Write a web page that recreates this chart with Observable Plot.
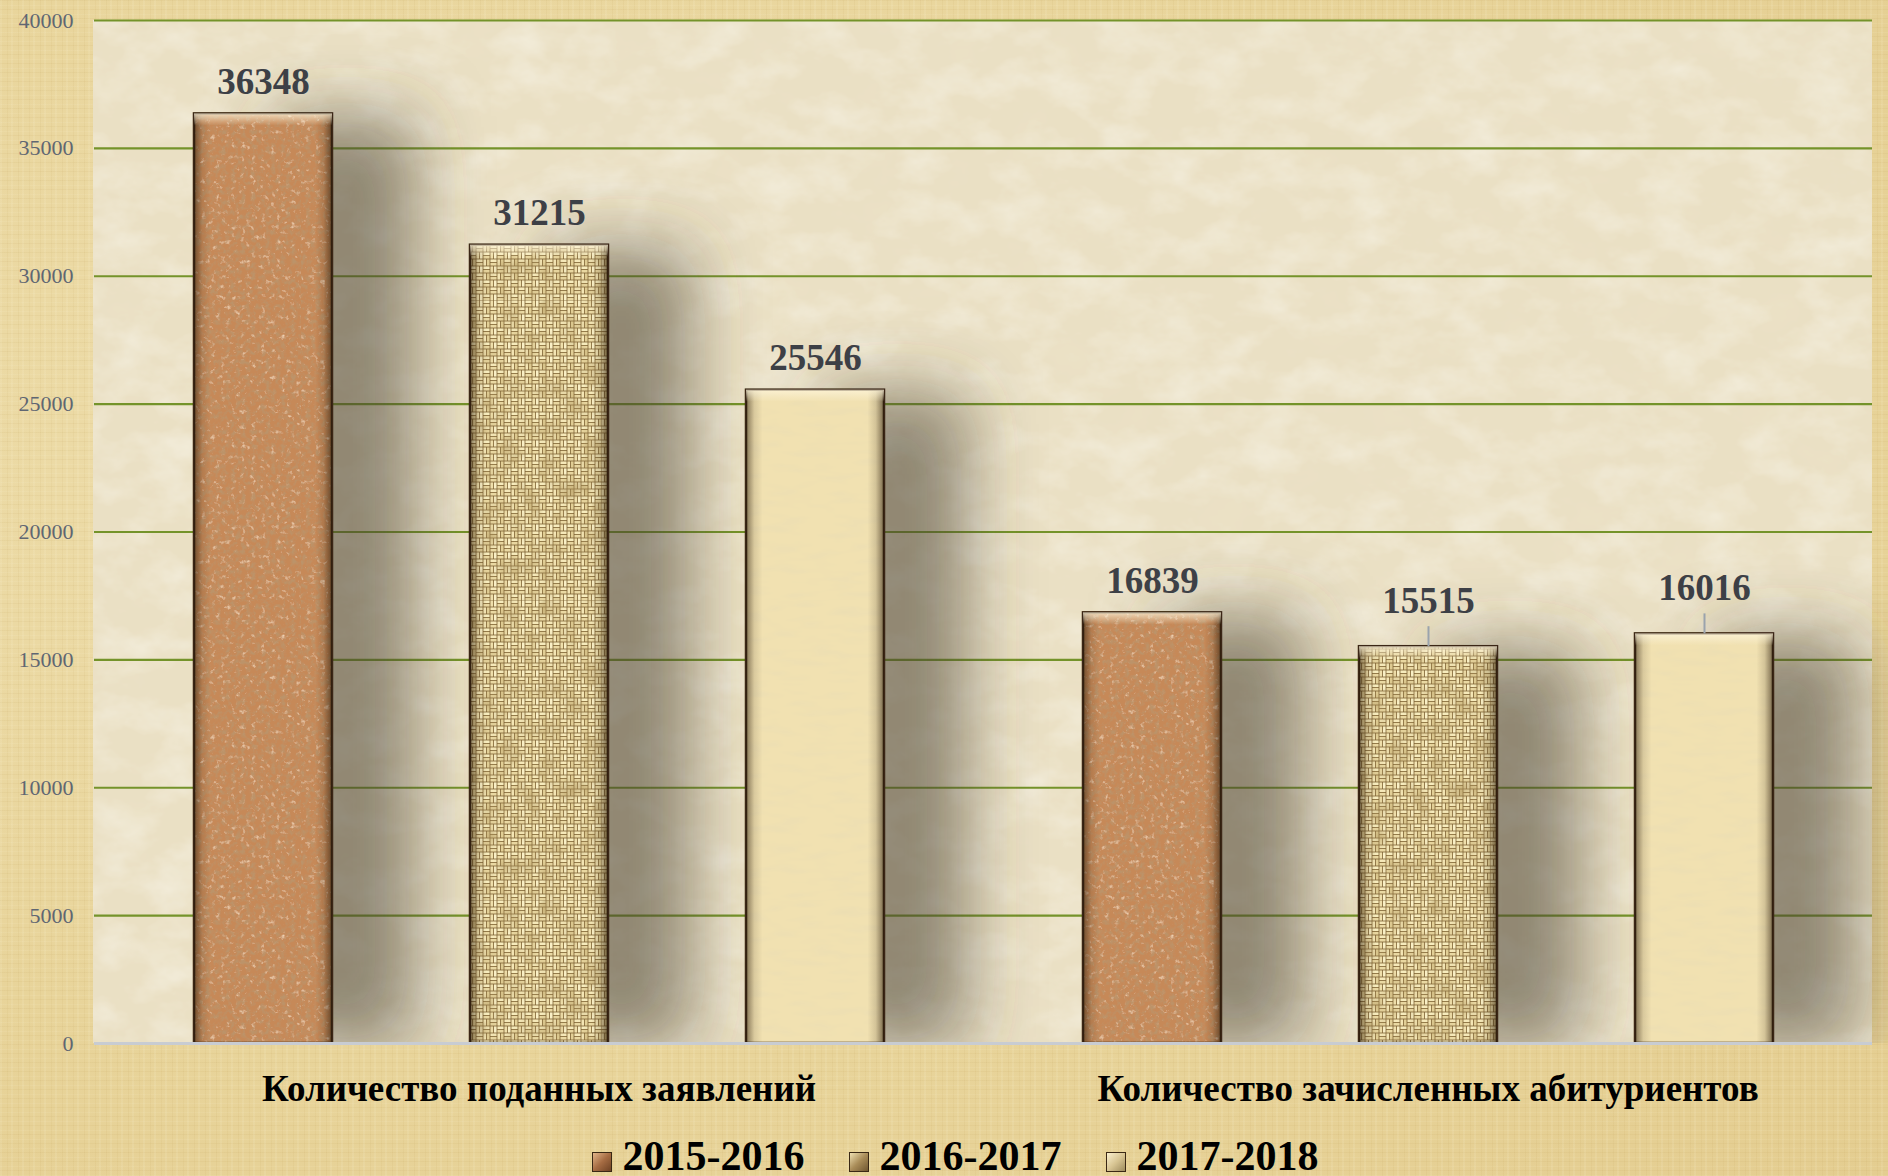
<!DOCTYPE html>
<html>
<head>
<meta charset="utf-8">
<script src="https://cdn.jsdelivr.net/npm/d3@7"></script>
<script src="https://cdn.jsdelivr.net/npm/@observablehq/plot@0.6"></script>
<style>
  html, body { margin: 0; padding: 0; width: 1888px; height: 1176px; overflow: hidden; }
  body {
    background:
      repeating-linear-gradient(90deg, rgba(255,250,225,0.10) 0 2px, rgba(0,0,0,0) 2px 7px, rgba(170,130,50,0.06) 7px 8px, rgba(0,0,0,0) 8px 11px),
      repeating-linear-gradient(0deg, rgba(255,250,225,0.08) 0 1px, rgba(0,0,0,0) 1px 5px, rgba(160,120,40,0.06) 5px 6px, rgba(0,0,0,0) 6px 9px),
      radial-gradient(ellipse at 30% 40%, #efdfae 0%, #e8d49a 60%, #e4cd90 100%);
    font-family: "Liberation Serif", "Times New Roman", serif;
  }
  #chart svg { display: block; }
  #legend {
    height: 56px; box-sizing: border-box; padding-top: 8px; padding-left: 22px;
    display: flex; justify-content: center; align-items: baseline;
    font: bold 42px "Liberation Serif", "Times New Roman", serif; line-height: 56px; color: #000;
  }
  .item { display: flex; align-items: center; margin: 0 22px; }
  .sw { width: 20px; height: 20px; margin-right: 11px; box-sizing: border-box; border: 1px solid #3a2814; position: relative; top: 6px; }
</style>
</head>
<body>
<div id="chart"></div>
<div id="legend"></div>
<script>
// ---- data ----
const groups = ["Количество поданных заявлений", "Количество зачисленных абитуриентов"];
const years = ["2015-2016", "2016-2017", "2017-2018"];
const applications = [36348, 31215, 25546];
const enrolled = [16839, 15515, 16016];
const yTicks = [0, 5000, 10000, 15000, 20000, 25000, 30000, 35000, 40000];
const calloutValues = [15515, 16016];

const table = [];
[applications, enrolled].forEach((series, gi) => {
  series.forEach((v, yi) => table.push({group: groups[gi], year: years[yi], value: v}));
});
const plain = table.filter(d => !calloutValues.includes(d.value));
const callouts = table.filter(d => calloutValues.includes(d.value));

const fills = ["url(#tex0)", "url(#tex1)", "url(#tex2)"];
const FONT = "'Liberation Serif', 'Times New Roman', serif";
const W = 1888, H = 1120, ML = 93, MR = 16, MT = 20, MB = 77;

const chart = Plot.plot({
  width: W,
  height: H,
  marginLeft: ML,
  marginRight: MR,
  marginTop: MT,
  marginBottom: MB,
  style: {background: "transparent", fontFamily: FONT, color: "#000"},
  fx: {domain: groups, padding: 0, label: null},
  x: {domain: years, paddingInner: 0.5, paddingOuter: 0.36, axis: null},
  y: {domain: [0, 40000], label: null},
  color: {type: "ordinal", domain: years, range: fills},
  marks: [
    Plot.ruleY(yTicks.filter(d => d > 0), {stroke: "#74932a", strokeWidth: 2.2}),
    Plot.barY(table, {fx: "group", x: "year", y: "value", fill: "year", stroke: "#3a2612", strokeWidth: 2.5}),
    Plot.barY(table, {fx: "group", x: "year", y: "value", fill: "url(#edgeShade)"}),
    Plot.barY(table, {fx: "group", x: "year", y1: "value", y2: "value", insetBottom: -12, fill: "url(#topLight)"}),
    Plot.ruleY([0], {stroke: "#c8ccd2", strokeWidth: 3}),
    Plot.ruleX(callouts, {fx: "group", x: "year", y1: "value", y2: "value", insetTop: -20, stroke: "#9aa3ad", strokeWidth: 2}),
    Plot.text(plain, {fx: "group", x: "year", y: "value", text: d => String(d.value), lineAnchor: "bottom", dy: -20, fontSize: 37, fontWeight: "bold", fill: "#3d4046"}),
    Plot.text(callouts, {fx: "group", x: "year", y: "value", text: d => String(d.value), lineAnchor: "bottom", dy: -34, fontSize: 37, fontWeight: "bold", fill: "#3d4046"}),
    Plot.axisY({ticks: yTicks, tickSize: 0, tickPadding: 21, fontSize: 22, fill: "#5f6672", tickFormat: d => String(d), label: null}),
    Plot.axisFx({anchor: "bottom", tickSize: 0, tickPadding: 31, fontSize: 37, fontWeight: "bold", fill: "#000", label: null})
  ]
});

const defs = `
<filter id="noise0" x="0" y="0" width="1" height="1">
  <feTurbulence type="fractalNoise" baseFrequency="0.2" numOctaves="3" seed="4" result="t"/>
  <feFlood flood-color="#c68959" result="base"/>
  <feColorMatrix in="t" type="matrix" values="0 0 0 0 0.5  0 0 0 0 0.29  0 0 0 0 0.14  3.0 0 0 0 -1.3" result="dark"/>
  <feColorMatrix in="t" type="matrix" values="0 0 0 0 0.9  0 0 0 0 0.7  0 0 0 0 0.5  0 -2.6 0 0 1.05" result="light"/>
  <feMerge><feMergeNode in="base"/><feMergeNode in="light"/><feMergeNode in="dark"/></feMerge>
</filter>
<pattern id="tex0" patternUnits="userSpaceOnUse" width="300" height="300">
  <rect width="300" height="300" filter="url(#noise0)"/>
</pattern>
<filter id="noise1" x="0" y="0" width="1" height="1">
  <feTurbulence type="fractalNoise" baseFrequency="0.05" numOctaves="2" seed="9" result="t"/>
  <feColorMatrix in="t" type="matrix" values="0 0 0 0 0.4  0 0 0 0 0.28  0 0 0 0 0.1  1.2 0 0 0 -0.55"/>
</filter>
<pattern id="weave" patternUnits="userSpaceOnUse" width="14" height="14">
  <rect width="14" height="14" fill="#7d6132"/>
  <rect x="0.4" y="0.4" width="6.2" height="2.7" fill="#f7ecbd"/>
  <rect x="0.4" y="3.9" width="6.2" height="2.7" fill="#e9d7a0"/>
  <rect x="7.4" y="0.4" width="2.7" height="6.2" fill="#efdfab"/>
  <rect x="10.9" y="0.4" width="2.7" height="6.2" fill="#faf0c6"/>
  <rect x="0.4" y="7.4" width="2.7" height="6.2" fill="#f4e6b5"/>
  <rect x="3.9" y="7.4" width="2.7" height="6.2" fill="#e2cf96"/>
  <rect x="7.4" y="7.4" width="6.2" height="2.7" fill="#f6e9b9"/>
  <rect x="7.4" y="10.9" width="6.2" height="2.7" fill="#ead9a3"/>
</pattern>
<pattern id="tex1" patternUnits="userSpaceOnUse" width="300" height="300">
  <rect width="300" height="300" fill="url(#weave)"/>
  <rect width="300" height="300" filter="url(#noise1)"/>
</pattern>
<filter id="noise2" x="0" y="0" width="1" height="1">
  <feTurbulence type="fractalNoise" baseFrequency="0.03 0.12" numOctaves="2" seed="2" result="t"/>
  <feColorMatrix in="t" type="matrix" values="0 0 0 0 0.82  0 0 0 0 0.72  0 0 0 0 0.45  1.4 0 0 0 -0.62"/>
</filter>
<pattern id="tex2" patternUnits="userSpaceOnUse" width="300" height="300">
  <rect width="300" height="300" fill="#f1e1b1"/>
  <rect width="300" height="300" filter="url(#noise2)"/>
</pattern>
<linearGradient id="edgeShade" x1="0" x2="1" y1="0" y2="0">
  <stop offset="0" stop-color="#2a1a08" stop-opacity="0.55"/>
  <stop offset="0.06" stop-color="#2a1a08" stop-opacity="0.12"/>
  <stop offset="0.12" stop-color="#2a1a08" stop-opacity="0"/>
  <stop offset="0.88" stop-color="#2a1a08" stop-opacity="0"/>
  <stop offset="0.94" stop-color="#2a1a08" stop-opacity="0.15"/>
  <stop offset="1" stop-color="#2a1a08" stop-opacity="0.6"/>
</linearGradient>
<linearGradient id="topLight" x1="0" x2="0" y1="0" y2="1">
  <stop offset="0" stop-color="#fff6dc" stop-opacity="0.75"/>
  <stop offset="1" stop-color="#fff6dc" stop-opacity="0"/>
</linearGradient>
<filter id="bgNoise" x="0" y="0" width="1" height="1">
  <feTurbulence type="fractalNoise" baseFrequency="0.02 0.03" numOctaves="4" seed="7" result="t"/>
  <feFlood flood-color="#eae0c4" result="base"/>
  <feColorMatrix in="t" type="matrix" values="0 0 0 0 0.96  0 0 0 0 0.93  0 0 0 0 0.84  1.0 0 0 0 -0.42" result="light"/>
  <feColorMatrix in="t" type="matrix" values="0 0 0 0 0.84  0 0 0 0 0.77  0 0 0 0 0.58  0 -1.2 0 0 0.58" result="dark"/>
  <feMerge><feMergeNode in="base"/><feMergeNode in="light"/><feMergeNode in="dark"/></feMerge>
</filter>
<filter id="barShadow" filterUnits="userSpaceOnUse" x="-200" y="-200" width="2400" height="${H - MB + 200}">
  <feGaussianBlur in="SourceAlpha" stdDeviation="34"/>
  <feOffset dx="82" dy="4" result="b"/>
  <feFlood flood-color="#474031" flood-opacity="0.56"/>
  <feComposite in2="b" operator="in" result="s"/>
  <feMerge><feMergeNode in="s"/><feMergeNode in="SourceGraphic"/></feMerge>
</filter>`;

const svg = d3.select(chart);
svg.insert("defs", ":first-child").html(defs);
// plot-area background, one piece across both facets
svg.insert("rect", "defs + *")
  .attr("x", ML).attr("y", MT)
  .attr("width", W - ML - MR).attr("height", H - MT - MB)
  .attr("filter", "url(#bgNoise)");

// soft cast shadow behind the main bars
const parents = new Set();
chart.querySelectorAll("rect").forEach(r => {
  const f = r.getAttribute("fill") || "";
  if (f.startsWith("url(#tex")) parents.add(r.parentNode);
});
parents.forEach(g => g.setAttribute("filter", "url(#barShadow)"));

document.getElementById("chart").appendChild(chart);

// legend
const swatchBg = [
  "linear-gradient(135deg, #e2b58a 0%, #a66c43 50%, #6e4224 100%)",
  "linear-gradient(135deg, #efe0b2 0%, #a98c58 50%, #6f5630 100%)",
  "linear-gradient(135deg, #faf0cf 0%, #d8c593 50%, #9c8a5c 100%)"
];
const legend = document.getElementById("legend");
years.forEach((y, i) => {
  const item = document.createElement("div");
  item.className = "item";
  const sw = document.createElement("span");
  sw.className = "sw";
  sw.style.background = swatchBg[i];
  const t = document.createElement("span");
  t.textContent = y;
  item.appendChild(sw);
  item.appendChild(t);
  legend.appendChild(item);
});
</script>
</body>
</html>
